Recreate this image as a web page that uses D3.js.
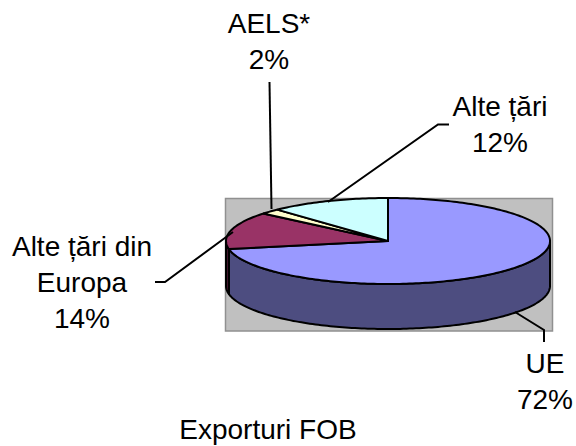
<!DOCTYPE html>
<html><head><meta charset="utf-8">
<script src="https://cdn.jsdelivr.net/npm/d3@7"></script>
<style>html,body{margin:0;padding:0;background:#fff}svg{display:block}text{font-family:"Liberation Sans",Arial,sans-serif;font-size:28px;fill:#000;text-anchor:middle}</style>
</head><body><svg id="c" width="576" height="446"></svg>
<script>
const categories=["UE","Alte țări din Europa","AELS*","Alte țări"];
const values=[72,14,2,12];
const topColors=["#9999ff","#993366","#ffffcc","#ccffff"];
const sideColors=["#4d4d80","#4d1a33","#808066","#668080"];
const labelLines=[["UE","72%"],["Alte țări din","Europa","14%"],["AELS*","2%"],["Alte țări","12%"]];
const labelPos=[[545,373],[82,256],[269,33],[500,116]];
const leaders=[[[515,312],[544,330],[544,342]],[[155,282],[165,282],[233,232]],[[269.5,82],[271.5,209]],[[449,124.5],[438,124.5],[328,202]]];
const title="Exporturi FOB";

const svg=d3.select("#c");
const cx=388,cy=241,rx=162,ry=43,depth=45;
const X=d3.scaleLinear().domain([-1,1]).range([cx-rx,cx+rx]);
const Y=d3.scaleLinear().domain([-1,1]).range([cy-ry,cy+ry]);
const pie=d3.pie().sort(null).value(d=>d)(values);
const pt=(a,dz=0)=>[X(Math.sin(a)),Y(-Math.cos(a))+dz];
const line=d3.line();
const seq=(a,b)=>{const n=Math.max(2,Math.ceil(Math.abs(b-a)/0.02));return d3.range(n+1).map(i=>a+(b-a)*i/n)};

svg.append("rect").attr("x",225.5).attr("y",198.5).attr("width",327).attr("height",132.5)
  .attr("fill","#c0c0c0").attr("stroke","#909090").attr("stroke-width",1.5);

// side wall: only the front half of the ellipse is visible
const g=svg.append("g").attr("stroke","#000").attr("stroke-width",2).attr("stroke-linejoin","round");
pie.forEach((s,i)=>{
  const a=Math.max(s.startAngle,Math.PI/2),b=Math.min(s.endAngle,Math.PI*1.5);
  if(b<=a)return;
  const top=seq(a,b).map(t=>pt(t));
  const bot=seq(b,a).map(t=>pt(t,depth));
  g.append("path").attr("d",line(top.concat(bot))+"Z").attr("fill",sideColors[i]);
});
// top faces
pie.forEach((s,i)=>{
  const pts=[[cx,cy]].concat(seq(s.startAngle,s.endAngle).map(t=>pt(t)));
  g.append("path").attr("d",line(pts)+"Z").attr("fill",topColors[i]);
});
// leaders
svg.append("g").selectAll("path").data(leaders).join("path")
  .attr("d",d=>line(d)).attr("fill","none").attr("stroke","#000").attr("stroke-width",2);
// labels
labelLines.forEach((ls,i)=>{
  const t=svg.append("text").attr("x",labelPos[i][0]).attr("y",labelPos[i][1]);
  ls.forEach((l,j)=>t.append("tspan").attr("x",labelPos[i][0]).attr("dy",j?36:0).text(l));
});
svg.append("text").attr("x",268).attr("y",439).text(title);
</script></body></html>
